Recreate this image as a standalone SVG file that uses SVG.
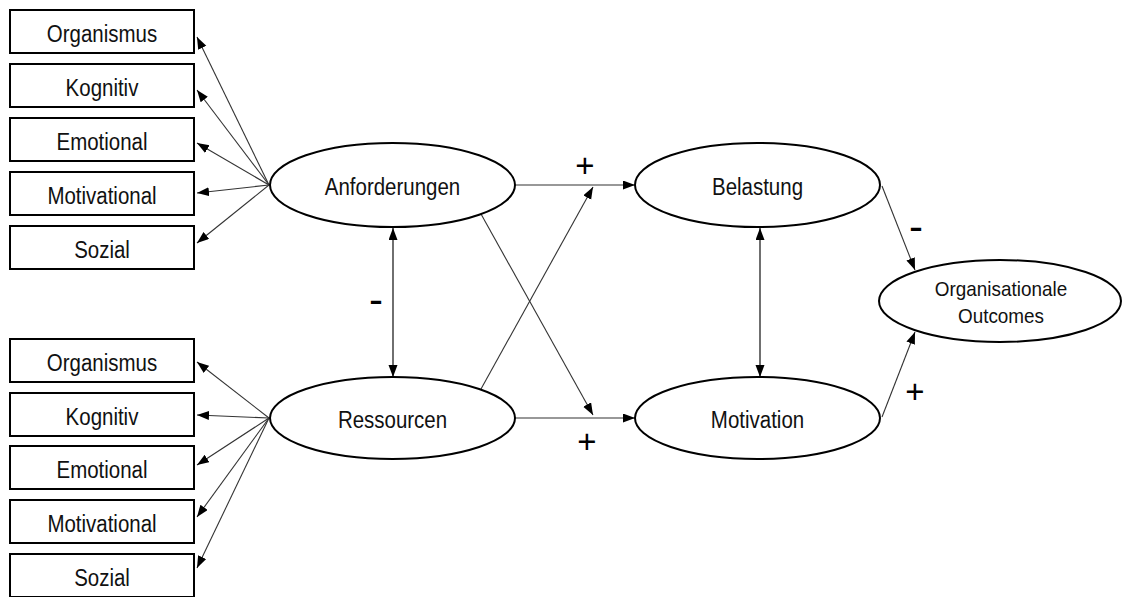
<svg xmlns="http://www.w3.org/2000/svg" width="1122" height="597" viewBox="0 0 1122 597">
<style>
  .box{fill:#fff;stroke:#000;stroke-width:2}
  .ell{fill:#fff;stroke:#000;stroke-width:2}
  .t{font-family:"Liberation Sans",Arial,sans-serif;font-size:23px;fill:#111;text-anchor:middle}
  .t2{font-family:"Liberation Sans",Arial,sans-serif;font-size:21px;fill:#111;text-anchor:middle}
  .lbl{font-family:"Liberation Sans",Arial,sans-serif;font-size:33px;fill:#000;text-anchor:middle}
  .mn{font-family:"Liberation Sans",Arial,sans-serif;font-size:42px;fill:#000;text-anchor:middle}
  .c{fill:none;stroke:#333;stroke-width:1.1;marker-end:url(#ah)}
  .d{fill:none;stroke:#222;stroke-width:1.3;marker-end:url(#ah);marker-start:url(#ahs)}
</style>
<defs>
  <marker id="ah" markerUnits="userSpaceOnUse" markerWidth="13" markerHeight="10" refX="12" refY="4.5" orient="auto">
    <path d="M0,0 L12,4.5 L0,9 z" fill="#000"/>
  </marker>
  <marker id="ahs" markerUnits="userSpaceOnUse" markerWidth="13" markerHeight="10" refX="12" refY="4.5" orient="auto-start-reverse">
    <path d="M0,0 L12,4.5 L0,9 z" fill="#000"/>
  </marker>
</defs>
<rect width="1122" height="597" fill="#fff"/>
<g id="connectors">
  <line class="c" x1="269" y1="185" x2="197" y2="37"/>
  <line class="c" x1="269" y1="185" x2="197" y2="90"/>
  <line class="c" x1="269" y1="185" x2="197" y2="143"/>
  <line class="c" x1="269" y1="185" x2="197" y2="193"/>
  <line class="c" x1="269" y1="185" x2="197" y2="243"/>
  <line class="c" x1="269" y1="418" x2="197" y2="362"/>
  <line class="c" x1="269" y1="418" x2="197" y2="415"/>
  <line class="c" x1="269" y1="418" x2="197" y2="465"/>
  <line class="c" x1="269" y1="418" x2="197" y2="517"/>
  <line class="c" x1="269" y1="418" x2="197" y2="568"/>
  <line class="c" x1="515" y1="185" x2="635" y2="185"/>
  <line class="c" x1="515" y1="418" x2="635" y2="418"/>
  <line class="c" x1="481" y1="214" x2="593" y2="415"/>
  <line class="c" x1="481" y1="389" x2="593" y2="187"/>
  <line class="d" x1="393" y1="228" x2="393" y2="377"/>
  <line class="d" x1="760" y1="228" x2="760" y2="377"/>
  <line class="c" x1="882" y1="186" x2="915" y2="270"/>
  <line class="c" x1="882" y1="417" x2="915" y2="332"/>
  <text class="lbl" x="585" y="177">+</text>
  <text class="lbl" x="587" y="453">+</text>
  <text class="mn" x="376" y="314">-</text>
  <text class="mn" x="916" y="241">-</text>
  <text class="lbl" x="915" y="403">+</text>
</g>
<g id="a-organismus"><rect class="box" x="10" y="10" width="184" height="43"/><text class="t" transform="translate(102,42) scale(0.89,1)">Organismus</text></g>
<g id="a-kognitiv"><rect class="box" x="10" y="64" width="184" height="43"/><text class="t" transform="translate(102,96) scale(0.89,1)">Kognitiv</text></g>
<g id="a-emotional"><rect class="box" x="10" y="118" width="184" height="43"/><text class="t" transform="translate(102,150) scale(0.89,1)">Emotional</text></g>
<g id="a-motivational"><rect class="box" x="10" y="172" width="184" height="43"/><text class="t" transform="translate(102,204) scale(0.89,1)">Motivational</text></g>
<g id="a-sozial"><rect class="box" x="10" y="226" width="184" height="43"/><text class="t" transform="translate(102,258) scale(0.89,1)">Sozial</text></g>
<g id="r-organismus"><rect class="box" x="10" y="339" width="184" height="43"/><text class="t" transform="translate(102,371) scale(0.89,1)">Organismus</text></g>
<g id="r-kognitiv"><rect class="box" x="10" y="393" width="184" height="43"/><text class="t" transform="translate(102,425) scale(0.89,1)">Kognitiv</text></g>
<g id="r-emotional"><rect class="box" x="10" y="446" width="184" height="43"/><text class="t" transform="translate(102,478) scale(0.89,1)">Emotional</text></g>
<g id="r-motivational"><rect class="box" x="10" y="500" width="184" height="43"/><text class="t" transform="translate(102,532) scale(0.89,1)">Motivational</text></g>
<g id="r-sozial"><rect class="box" x="10" y="554" width="184" height="43"/><text class="t" transform="translate(102,586) scale(0.89,1)">Sozial</text></g>
<g id="anforderungen"><ellipse class="ell" cx="392.5" cy="185" rx="122.5" ry="42"/><text class="t" transform="translate(392.5,195) scale(0.89,1)">Anforderungen</text></g>
<g id="ressourcen"><ellipse class="ell" cx="392.5" cy="418" rx="122.5" ry="41"/><text class="t" transform="translate(392.5,428) scale(0.89,1)">Ressourcen</text></g>
<g id="belastung"><ellipse class="ell" cx="757.5" cy="185" rx="122.5" ry="42"/><text class="t" transform="translate(757.5,195) scale(0.89,1)">Belastung</text></g>
<g id="motivation"><ellipse class="ell" cx="757.5" cy="418" rx="122.5" ry="41"/><text class="t" transform="translate(757.5,428) scale(0.89,1)">Motivation</text></g>
<g id="outcomes"><ellipse class="ell" cx="1000" cy="301" rx="121" ry="41"/>
  <text class="t2" transform="translate(1001,296) scale(0.9,1)">Organisationale</text>
  <text class="t2" transform="translate(1001,323) scale(0.9,1)">Outcomes</text></g>
</svg>
